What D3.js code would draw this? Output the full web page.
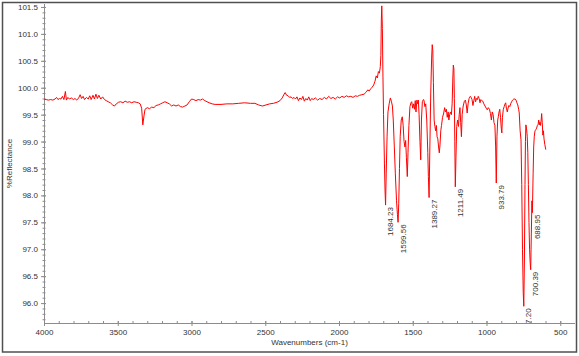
<!DOCTYPE html>
<html>
<head>
<meta charset="utf-8">
<script src="https://cdn.jsdelivr.net/npm/d3@7"></script>
<style>
  body { margin: 0; background: #fff; }
  text { font-family: "Liberation Sans", Arial, sans-serif; }
</style>
</head>
<body>
<svg id="chart" width="579" height="356"></svg>
<script>
// spectrum (wavenumber cm-1 -> %Reflectance)
var wavenumber = [
  4000, 3985, 3970, 3955, 3940, 3925, 3915, 3905, 3895, 3885,
  3875, 3865, 3855, 3848, 3838, 3828, 3815, 3800, 3790, 3778,
  3765, 3755, 3745, 3735, 3725, 3712, 3700, 3690, 3680, 3668,
  3658, 3648, 3638, 3628, 3615, 3603, 3590, 3578, 3565, 3550,
  3535, 3522, 3510, 3495, 3480, 3465, 3450, 3435, 3420, 3405,
  3390, 3375, 3360, 3348, 3338, 3330, 3322, 3315, 3300, 3285,
  3270, 3255, 3240, 3225, 3210, 3195, 3180, 3165, 3150, 3135,
  3120, 3105, 3090, 3075, 3060, 3045, 3030, 3015, 3000, 2985,
  2970, 2955, 2940, 2925, 2910, 2895, 2880, 2860, 2840, 2800,
  2760, 2720, 2680, 2640, 2600, 2570, 2545, 2520, 2495, 2470,
  2445, 2420, 2400, 2385, 2372, 2365, 2355, 2345, 2335, 2325,
  2315, 2305, 2295, 2285, 2275, 2265, 2255, 2245, 2235, 2225,
  2215, 2205, 2195, 2185, 2175, 2160, 2145, 2130, 2115, 2100,
  2085, 2070, 2055, 2040, 2025, 2010, 1995, 1980, 1965, 1950,
  1935, 1920, 1905, 1890, 1875, 1860, 1845, 1830, 1815, 1805,
  1795, 1785, 1775, 1765, 1756, 1748, 1740, 1733, 1726, 1720,
  1716, 1713, 1710, 1706, 1702, 1698, 1692, 1688, 1684.23, 1680,
  1674, 1668, 1660, 1652, 1645, 1638, 1632, 1625, 1618, 1610,
  1604, 1599.56, 1595, 1590, 1585, 1578, 1571, 1565, 1559, 1553,
  1548, 1543, 1537, 1532, 1526, 1519, 1512, 1507, 1500, 1494,
  1488, 1483, 1478, 1472, 1466, 1462, 1457, 1451, 1446, 1441,
  1435, 1428, 1424, 1418, 1412, 1405, 1398, 1394, 1389.27, 1384,
  1378, 1372, 1368, 1364, 1360, 1355, 1350, 1345, 1340, 1335,
  1330, 1325, 1320, 1315, 1310, 1305, 1298, 1290, 1284, 1278,
  1272, 1266, 1260, 1255, 1250, 1244, 1238, 1233, 1228, 1225,
  1221, 1218, 1215, 1211.49, 1207, 1202, 1196, 1190, 1185, 1180,
  1175, 1170, 1165, 1158, 1150, 1143, 1137, 1131, 1125, 1118,
  1110, 1104, 1098, 1092, 1086, 1080, 1074, 1068, 1062, 1056,
  1050, 1044, 1038, 1032, 1025, 1018, 1010, 1002, 995, 988,
  980, 973, 967, 961, 955, 949, 943, 938, 933.79, 929,
  924, 920, 915, 910, 905, 900, 896, 892, 886, 880,
  874, 870, 865, 859, 854, 848, 842, 836, 830, 823,
  815, 807, 800, 794, 788, 782, 778, 772, 766, 761,
  756, 751, 747.20, 743, 739, 736, 733, 729, 724, 720,
  716, 712, 708, 704, 700.39, 696, 692, 688.95, 684, 680,
  676, 671, 666, 660, 655, 650, 646, 642, 638, 634,
  630, 626, 622, 618, 614, 610, 605, 598
];
var reflectance = [
  99.79, 99.78, 99.77, 99.78, 99.77, 99.79, 99.82, 99.78, 99.80, 99.79,
  99.84, 99.78, 99.93, 99.77, 99.82, 99.79, 99.81, 99.78, 99.80, 99.77,
  99.81, 99.87, 99.80, 99.84, 99.78, 99.82, 99.79, 99.85, 99.78, 99.86,
  99.79, 99.88, 99.80, 99.86, 99.79, 99.83, 99.78, 99.76, 99.74, 99.72,
  99.68, 99.66, 99.70, 99.73, 99.74, 99.72, 99.75, 99.73, 99.74, 99.72,
  99.74, 99.73, 99.72, 99.70, 99.62, 99.31, 99.48, 99.60, 99.63, 99.61,
  99.64, 99.63, 99.67, 99.68, 99.70, 99.72, 99.74, 99.72, 99.70, 99.66,
  99.68, 99.66, 99.68, 99.65, 99.64, 99.66, 99.68, 99.74, 99.79, 99.78,
  99.76, 99.78, 99.77, 99.79, 99.76, 99.74, 99.72, 99.70, 99.69, 99.69,
  99.70, 99.70, 99.71, 99.72, 99.71, 99.71, 99.68, 99.66, 99.68, 99.70,
  99.71, 99.73, 99.76, 99.81, 99.88, 99.91, 99.86, 99.85, 99.82, 99.83,
  99.80, 99.82, 99.79, 99.83, 99.76, 99.81, 99.78, 99.84, 99.75, 99.80,
  99.77, 99.83, 99.76, 99.80, 99.78, 99.81, 99.77, 99.80, 99.78, 99.82,
  99.79, 99.84, 99.80, 99.82, 99.79, 99.83, 99.81, 99.84, 99.82, 99.85,
  99.83, 99.84, 99.82, 99.85, 99.84, 99.86, 99.87, 99.88, 99.92, 99.96,
  99.94, 99.98, 100.01, 100.05, 100.12, 100.22, 100.18, 100.30, 100.27, 100.39,
  100.60, 101.26, 101.52, 101.10, 100.20, 99.50, 98.60, 98.10, 97.82, 98.40,
  99.10, 99.55, 99.70, 99.81, 99.75, 99.66, 99.40, 98.90, 98.40, 97.90,
  97.65, 97.50, 97.85, 98.50, 99.10, 99.40, 99.46, 99.30, 99.00, 98.90,
  99.02, 98.70, 98.35, 98.80, 99.30, 99.65, 99.72, 99.74, 99.62, 99.70,
  99.60, 99.76, 99.55, 99.77, 99.70, 99.77, 99.50, 99.00, 98.66, 99.40,
  99.74, 99.78, 99.77, 99.65, 99.70, 99.40, 98.80, 98.35, 97.96, 98.90,
  99.90, 100.55, 100.80, 100.70, 100.10, 99.40, 99.28, 99.20, 99.30, 99.09,
  99.05, 98.90, 98.79, 98.95, 99.20, 99.30, 99.45, 99.53, 99.63, 99.55,
  99.60, 99.45, 99.55, 99.40, 99.50, 99.55, 99.50, 99.70, 100.20, 100.42,
  100.35, 99.80, 99.00, 98.16, 98.70, 99.28, 99.40, 99.28, 99.50, 99.63,
  99.35, 99.09, 99.50, 99.66, 99.75, 99.77, 99.68, 99.53, 99.70, 99.80,
  99.84, 99.82, 99.78, 99.67, 99.76, 99.84, 99.74, 99.80, 99.78, 99.84,
  99.80, 99.72, 99.78, 99.76, 99.75, 99.70, 99.66, 99.62, 99.59, 99.63,
  99.60, 99.52, 99.40, 99.55, 99.50, 99.35, 99.30, 98.90, 98.23, 99.10,
  99.40, 99.46, 99.55, 99.60, 99.45, 99.25, 99.16, 99.45, 99.60, 99.65,
  99.70, 99.72, 99.62, 99.55, 99.62, 99.67, 99.65, 99.70, 99.74, 99.77,
  99.79, 99.79, 99.77, 99.72, 99.68, 99.60, 99.53, 99.20, 99.03, 98.20,
  97.00, 96.20, 95.94, 96.80, 98.20, 99.00, 99.31, 99.25, 99.10, 98.80,
  98.20, 97.50, 97.00, 96.75, 96.62, 97.30, 97.90, 97.68, 98.40, 98.90,
  99.10, 99.20, 99.22, 99.25, 99.30, 99.32, 99.40, 99.31, 99.36, 99.30,
  99.38, 99.52, 99.35, 99.12, 99.20, 99.05, 98.95, 98.85
];

// labelled peaks
var peakWn = [1684.23, 1599.56, 1389.27, 1211.49, 933.79, 747.20, 700.39, 688.95];
var peakVal = [97.82, 97.50, 97.96, 98.16, 98.23, 95.94, 96.62, 97.68];

// axis ticks
var xTicks = [4000, 3500, 3000, 2500, 2000, 1500, 1000, 500];
var yTicks = [96.0, 96.5, 97.0, 97.5, 98.0, 98.5, 99.0, 99.5, 100.0, 100.5, 101.0, 101.5];

var svg = d3.select("#chart");
var plotLeft = 44, plotRight = 575, plotTop = 4, plotBottom = 323;

// frame
svg.append("rect")
   .attr("x", 2.5).attr("y", 2.5)
   .attr("width", 574).attr("height", 349.5)
   .attr("fill", "#fff")
   .attr("stroke", "#505050")
   .attr("stroke-width", 1.5);

var x = d3.scaleLinear().domain([4000, 400]).range([plotLeft, plotRight]);
var y = d3.scaleLinear().domain([95.63, 101.555]).range([plotBottom, plotTop]);

var axisColor = "#8c8c8c";
var textColor = "#333";

// minor ticks
var xMinor = d3.range(500, 4001, 100);
var yMinor = d3.range(957, 1016).map(function(d){ return d / 10; });

var gx = svg.append("g").attr("transform", "translate(0," + plotBottom + ")");
gx.selectAll("line.minor").data(xMinor).enter().append("line")
  .attr("x1", function(d){ return x(d) + 0.5; }).attr("x2", function(d){ return x(d) + 0.5; })
  .attr("y1", -2).attr("y2", 0.5)
  .attr("stroke", axisColor);
gx.call(d3.axisBottom(x).tickValues(xTicks).tickFormat(d3.format("d")).tickSize(3));

var gy = svg.append("g").attr("transform", "translate(" + plotLeft + ",0)");
gy.selectAll("line.minor").data(yMinor).enter().append("line")
  .attr("y1", function(d){ return y(d) + 0.5; }).attr("y2", function(d){ return y(d) + 0.5; })
  .attr("x1", -1.5).attr("x2", 1.5)
  .attr("stroke", axisColor);
gy.call(d3.axisLeft(y).tickValues(yTicks).tickFormat(d3.format(".1f")).tickSize(3));

[gx, gy].forEach(function(g){
  g.select(".domain").attr("stroke", axisColor);
  g.selectAll(".tick line").attr("stroke", axisColor);
  g.selectAll(".tick text").attr("fill", textColor).style("font-size", "8px")
   .style("font-family", "'Liberation Sans', Arial, sans-serif");
});
gx.select(".domain").attr("d", "M" + plotLeft + ",0.5H" + plotRight);
gx.selectAll(".tick line").attr("y1", -2).attr("y2", 3);
gx.selectAll(".tick text").attr("y", 6);
gy.select(".domain").attr("d", "M0.5," + plotTop + "V" + plotBottom);
gy.selectAll(".tick line").attr("x1", 2).attr("x2", -3);
gy.selectAll(".tick text").attr("x", -6);

// axis titles
svg.append("text")
   .attr("x", (plotLeft + plotRight) / 2).attr("y", 345)
   .attr("text-anchor", "middle")
   .attr("fill", textColor).style("font-size", "8px")
   .text("Wavenumbers (cm-1)");
svg.append("text")
   .attr("transform", "translate(12," + (plotTop + plotBottom) / 2 + ") rotate(-90)")
   .attr("text-anchor", "middle")
   .attr("fill", textColor).style("font-size", "8px")
   .text("%Reflectance");

// plot area clip
svg.append("clipPath").attr("id", "plotClip")
   .append("rect").attr("x", plotLeft).attr("y", plotTop)
   .attr("width", plotRight - plotLeft).attr("height", plotBottom - plotTop);

var plot = svg.append("g").attr("clip-path", "url(#plotClip)");

var line = d3.line()
  .x(function(d, i){ return x(wavenumber[i]); })
  .y(function(d){ return y(d); });

plot.append("path")
    .datum(reflectance)
    .attr("fill", "none")
    .attr("stroke", "#ff0000")
    .attr("stroke-width", 1)
    .attr("d", line);

plot.selectAll("text.peak").data(peakWn).enter().append("text")
    .attr("class", "peak")
    .attr("transform", function(d, i){
      return "translate(" + (x(d) + 7.5) + "," + (y(peakVal[i]) + 2) + ") rotate(-90)";
    })
    .attr("text-anchor", "end")
    .attr("fill", textColor)
    .style("font-size", "8px")
    .text(function(d){ return d.toFixed(2); });
</script>
</body>
</html>
